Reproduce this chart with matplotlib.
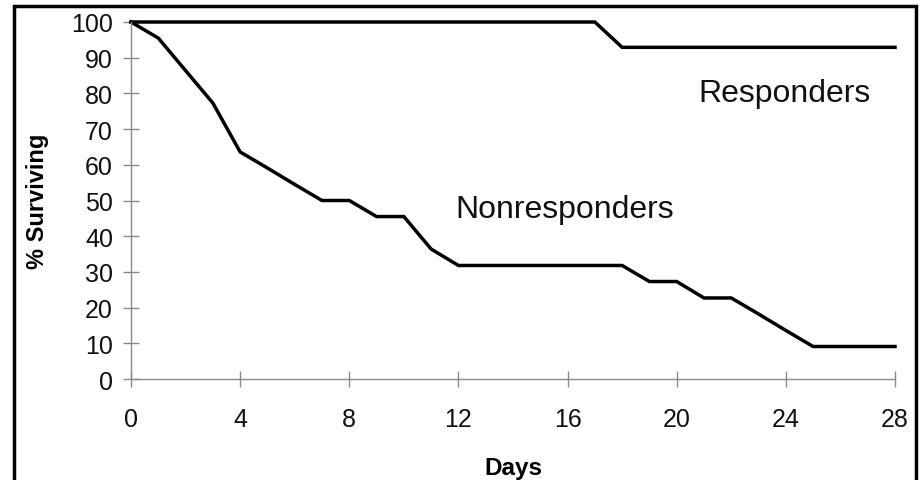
import matplotlib
matplotlib.use("Agg")
import matplotlib.pyplot as plt
from matplotlib.patches import Rectangle

plt.rcParams['font.family'] = ['Liberation Sans', 'DejaVu Sans']

days = list(range(0, 29))
nonresponders = [100, 95.5, 86.4, 77.3, 63.6, 59.1, 54.5, 50.0, 50.0, 45.5, 45.5,
                 36.4, 31.8, 31.8, 31.8, 31.8, 31.8, 31.8, 31.8, 27.3, 27.3, 22.7,
                 22.7, 18.2, 13.6, 9.1, 9.1, 9.1, 9.1]
responders = [100] * 18 + [92.9] * 11
xticks = [0, 4, 8, 12, 16, 20, 24, 28]
yticks = list(range(0, 101, 10))

fig = plt.figure(figsize=(9.22, 4.81), dpi=100)
ax = fig.add_axes([131/922, 1 - 380/481, (895 - 131)/922, (380 - 23)/481])

ax.plot(days, responders, color='black', lw=2.5, solid_joinstyle='miter', clip_on=False)
ax.plot(days, nonresponders, color='black', lw=2.5, solid_joinstyle='miter', clip_on=False)

ax.set_xlim(0, 28)
ax.set_ylim(0, 100)
ax.set_xticks(xticks)
ax.set_yticks(yticks)
for s in ['top', 'right']:
    ax.spines[s].set_visible(False)
for s in ['left', 'bottom']:
    ax.spines[s].set_color('#8a8a8a')
    ax.spines[s].set_linewidth(1.0)
ax.tick_params(axis='both', direction='inout', length=12, width=1.0, color='#8a8a8a',
               labelsize=18, labelcolor='#111111')
ax.tick_params(axis='y', pad=7)
ax.tick_params(axis='x', pad=14)

ax.set_xlabel('Days', fontsize=17.5, fontweight='bold', labelpad=18)
ax.set_ylabel('% Surviving', fontsize=17, fontweight='bold', labelpad=16)

ax.text(20.78, 78.0, 'Responders', fontsize=23, va='baseline', ha='left', color='#111111')
ax.text(11.9, 45.4, 'Nonresponders', fontsize=23, va='baseline', ha='left', color='#111111')

fig.patches.append(Rectangle((14/922, -0.1), (916 - 14)/922, (1 - 7/481) + 0.1,
                             transform=fig.transFigure, fill=False, edgecolor='black',
                             linewidth=2.5))

fig.savefig('out.png', dpi=100)
